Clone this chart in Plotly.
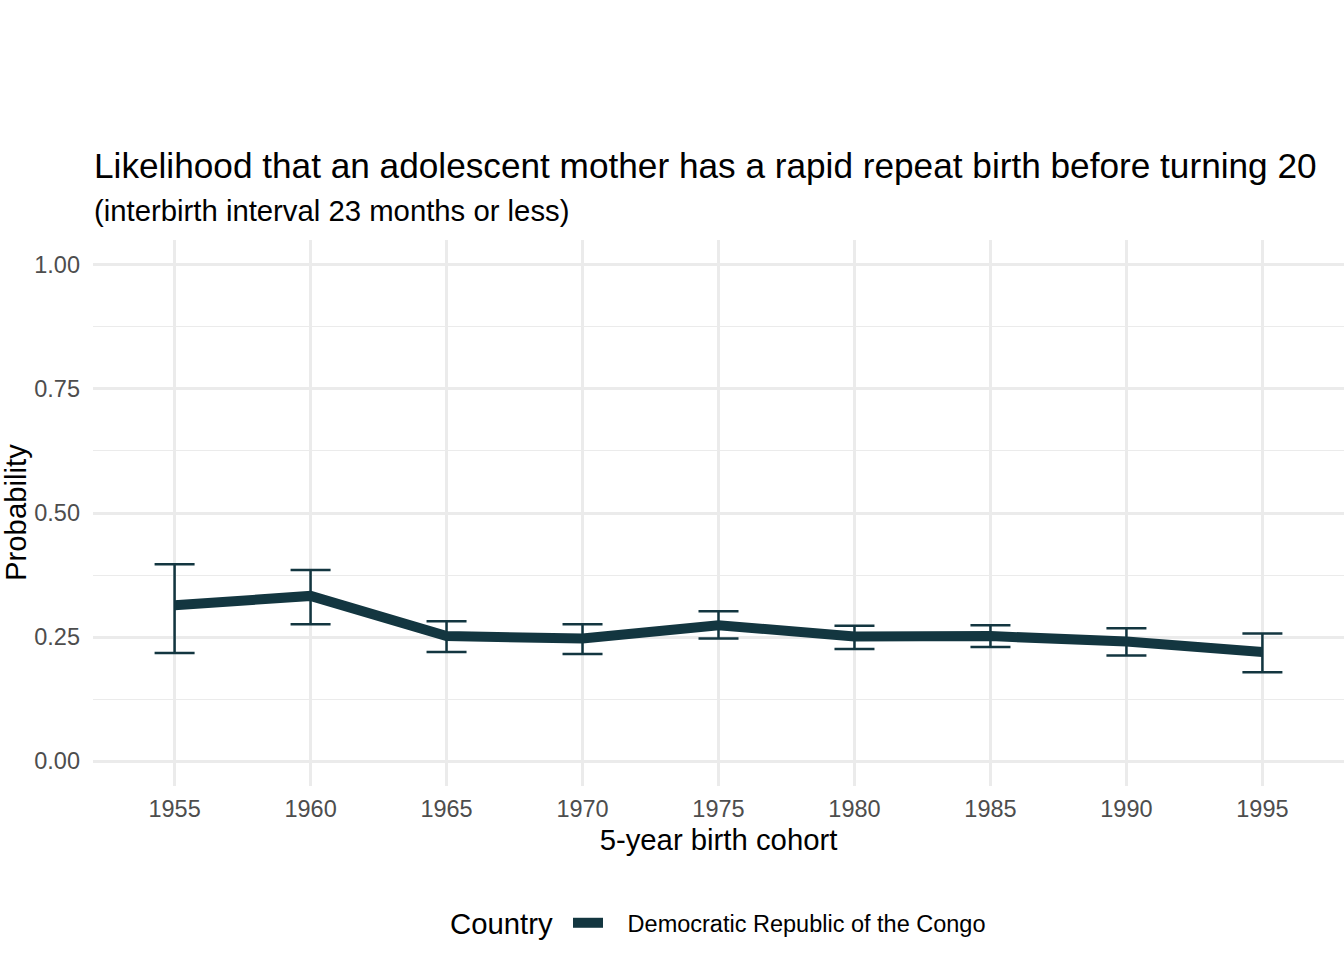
import plotly.graph_objects as go

cohorts = [1955, 1960, 1965, 1970, 1975, 1980, 1985, 1990, 1995]
prob = [0.314, 0.333, 0.252, 0.247, 0.274, 0.251, 0.252, 0.241, 0.220]
upper = [0.397, 0.385, 0.282, 0.276, 0.302, 0.273, 0.274, 0.268, 0.257]
lower = [0.218, 0.276, 0.220, 0.216, 0.247, 0.226, 0.230, 0.213, 0.179]
country = "Democratic Republic of the Congo"
y_ticks = [0, 0.25, 0.5, 0.75, 1.0]
y_ticklabels = ["0.00", "0.25", "0.50", "0.75", "1.00"]

COL = "#133640"
FONT = "Liberation Sans, Arial, sans-serif"

err_plus = [u - p for u, p in zip(upper, prob)]
err_minus = [p - l for p, l in zip(prob, lower)]

W, H = 1344, 960
ML, MT, MB = 93, 240, 174
PW, PH = W - ML, H - MT - MB


def px_x(px):
    return (px - ML) / PW


def px_y(py):
    return (H - MB - py) / PH


fig = go.Figure()
fig.add_trace(go.Scatter(
    x=cohorts, y=prob, mode="lines", name="\u00a0\u00a0\u00a0" + country,
    line=dict(color=COL, width=10),
    error_y=dict(type="data", symmetric=False, array=err_plus, arrayminus=err_minus,
                 color=COL, thickness=2.5, width=20),
))

fig.update_layout(
    width=W, height=H,
    paper_bgcolor="white", plot_bgcolor="white",
    margin=dict(l=ML, r=0, t=MT, b=MB),
    font=dict(family=FONT, color="black"),
    showlegend=True,
    legend=dict(orientation="h", x=px_x(568), xanchor="left", y=px_y(923), yanchor="middle",
                font=dict(size=23.5, color="black"), itemwidth=30),
    annotations=[
        dict(text="Likelihood that an adolescent mother has a rapid repeat birth before turning 20",
             xref="paper", yref="paper", x=px_x(92), xanchor="left", y=px_y(165), yanchor="middle",
             showarrow=False, font=dict(size=35.2, color="black")),
        dict(text="(interbirth interval 23 months or less)",
             xref="paper", yref="paper", x=px_x(92), xanchor="left", y=px_y(211), yanchor="middle",
             showarrow=False, font=dict(size=29.3, color="black")),
        dict(text="Country",
             xref="paper", yref="paper", x=px_x(501.5), xanchor="center", y=px_y(923), yanchor="middle",
             showarrow=False, font=dict(size=29.3, color="black")),
        dict(text="Probability", textangle=-90,
             xref="paper", yref="paper", x=px_x(15), xanchor="center", y=px_y(513), yanchor="middle",
             showarrow=False, font=dict(size=29.3, color="black")),
    ],
)

fig.update_xaxes(
    range=[1952, 1998], tickvals=cohorts, ticktext=[str(c) for c in cohorts],
    showgrid=True, gridcolor="#ebebeb", gridwidth=2.8, zeroline=False, showline=False,
    tickfont=dict(size=23.5, color="#4d4d4d"), ticklabelstandoff=6,
    title=dict(text="5-year birth cohort", font=dict(size=29.3, color="black"), standoff=8),
)
fig.update_yaxes(
    range=[-0.05, 1.05], tickvals=y_ticks, ticktext=y_ticklabels,
    showgrid=True, gridcolor="#ebebeb", gridwidth=2.8, zeroline=False, showline=False,
    minor=dict(tickvals=[0.125, 0.375, 0.625, 0.875], showgrid=True, gridcolor="#ebebeb", gridwidth=1.4),
    tickfont=dict(size=23.5, color="#4d4d4d"), ticklabelstandoff=12,
)

fig.write_html("out.html", config={"displayModeBar": False},
               post_script="document.body.style.margin='0px';")
